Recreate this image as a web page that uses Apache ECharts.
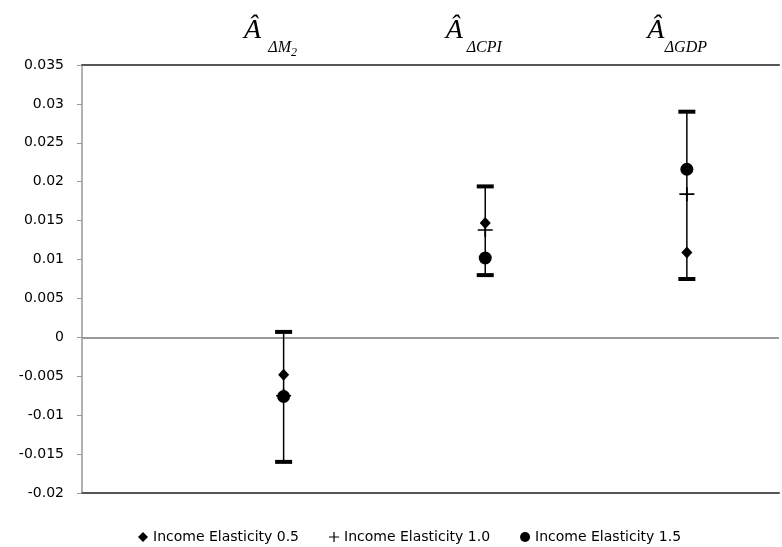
<!DOCTYPE html>
<html>
<head>
<meta charset="utf-8">
<script src="https://cdn.jsdelivr.net/npm/echarts@6/dist/echarts.min.js"></script>
<style>html,body{margin:0;padding:0;background:#fff}#c{width:782px;height:547px}</style>
</head>
<body>
<div id="c"></div>
<script>
// ---- data ----
const categories = ['ΔM2', 'ΔCPI', 'ΔGDP'];
const titleMain = ['Â', 'Â', 'Â'];
const titleSub = ['{s|ΔM}{t|2}', '{s|ΔCPI}', '{s|ΔGDP}'];
const seriesNames = ['Income Elasticity 0.5', 'Income Elasticity 1.0', 'Income Elasticity 1.5'];
const elasticity05 = [-0.0048, 0.0147, 0.0109];
const elasticity10 = [-0.0075, 0.0138, 0.0184];
const elasticity15 = [-0.0076, 0.0102, 0.0216];
const errLow = [-0.0160, 0.0080, 0.0075];
const errHigh = [0.0007, 0.0194, 0.0290];
const yTicks = [-0.02, -0.015, -0.01, -0.005, 0, 0.005, 0.01, 0.015, 0.02, 0.025, 0.03, 0.035];

const pos = categories.map((c, i) => i + 1);
const pts = arr => arr.map((v, i) => [pos[i], v]);
const errData = categories.map((c, i) => [pos[i], errLow[i], errHigh[i]]);

const plusPath = 'path://M0,4.4H10V5.6H0Z M4.4,0H5.6V10H4.4Z';

const chart = echarts.init(document.getElementById('c'), null, {renderer: 'canvas'});
const xBase = {type: 'value', min: 0, max: 3.457, interval: 1, splitLine: {show: false}, axisTick: {show: false}};
const isCat = v => v >= 1 && v <= 3 && Math.abs(v - Math.round(v)) < 1e-6;
chart.setOption({
  animation: false,
  backgroundColor: '#fff',
  grid: {left: 82, right: 0, top: 65, bottom: 54, containLabel: false},
  legend: {
    left: 133, top: 525, itemWidth: 10, itemHeight: 10, itemGap: 30,
    textStyle: {fontFamily: 'DejaVu Sans', fontSize: 14, color: '#000'},
    data: [
      {name: seriesNames[0], icon: 'diamond'},
      {name: seriesNames[1], icon: plusPath},
      {name: seriesNames[2], icon: 'circle'}
    ]
  },
  xAxis: [
    Object.assign({}, xBase, {position: 'bottom', axisLine: {show: true, onZero: false, lineStyle: {color: '#555', width: 2}}, axisLabel: {show: false}}),
    Object.assign({}, xBase, {position: 'top', axisLine: {show: true, onZero: false, lineStyle: {color: '#555', width: 2}},
      axisLabel: {show: true, margin: 20, padding: [0, 62, 0, 0], color: '#000', fontFamily: 'Liberation Serif', fontStyle: 'italic', fontSize: 28,
        formatter: v => isCat(v) ? titleMain[Math.round(v) - 1] : ''}}),
    Object.assign({}, xBase, {position: 'top', axisLine: {show: false},
      axisLabel: {show: true, margin: 6, padding: [0, 2, 0, 0],
        formatter: v => isCat(v) ? titleSub[Math.round(v) - 1] : '',
        rich: {
          s: {fontFamily: 'Liberation Serif', fontStyle: 'italic', fontSize: 16, color: '#000', lineHeight: 19, verticalAlign: 'top'},
          t: {fontFamily: 'Liberation Serif', fontStyle: 'italic', fontSize: 12, color: '#000', lineHeight: 19, verticalAlign: 'bottom'}
        }}})
  ],
  yAxis: {
    type: 'value', min: -0.02, max: 0.035, interval: 0.005,
    axisLine: {show: true, onZero: false, lineStyle: {color: '#999', width: 1.5}},
    axisTick: {show: true, length: 5, lineStyle: {color: '#999', width: 1}},
    splitLine: {show: false},
    axisLabel: {margin: 18, color: '#000', fontFamily: 'DejaVu Sans', fontSize: 14,
      formatter: v => String(+v.toFixed(3))}
  },
  series: [
    {
      type: 'custom', name: 'range', xAxisIndex: 0, yAxisIndex: 0, z: 2, silent: true,
      data: errData,
      renderItem: (params, api) => {
        const x = api.value(0);
        const lo = api.coord([x, api.value(1)]);
        const hi = api.coord([x, api.value(2)]);
        const capW = 17, capH = 4;
        return {type: 'group', children: [
          {type: 'line', shape: {x1: lo[0], y1: lo[1], x2: hi[0], y2: hi[1]}, style: {stroke: '#000', lineWidth: 1.5}},
          {type: 'rect', shape: {x: hi[0] - capW / 2, y: hi[1] - capH / 2, width: capW, height: capH}, style: {fill: '#000'}},
          {type: 'rect', shape: {x: lo[0] - capW / 2, y: lo[1] - capH / 2, width: capW, height: capH}, style: {fill: '#000'}}
        ]};
      },
      markLine: {silent: true, symbol: 'none', label: {show: false}, lineStyle: {color: '#999', width: 2, type: 'solid'}, data: [{yAxis: 0}], z: 1}
    },
    {type: 'scatter', name: seriesNames[0], data: pts(elasticity05), symbol: 'diamond', symbolSize: [11, 12], itemStyle: {color: '#000', opacity: 1}, z: 5},
    {type: 'scatter', name: seriesNames[1], data: pts(elasticity10), symbol: plusPath, symbolSize: [15, 14], itemStyle: {color: '#000', opacity: 1}, z: 6},
    {type: 'scatter', name: seriesNames[2], data: pts(elasticity15), symbol: 'circle', symbolSize: 13, itemStyle: {color: '#000', opacity: 1}, z: 4}
  ]
});
</script>
</body>
</html>
